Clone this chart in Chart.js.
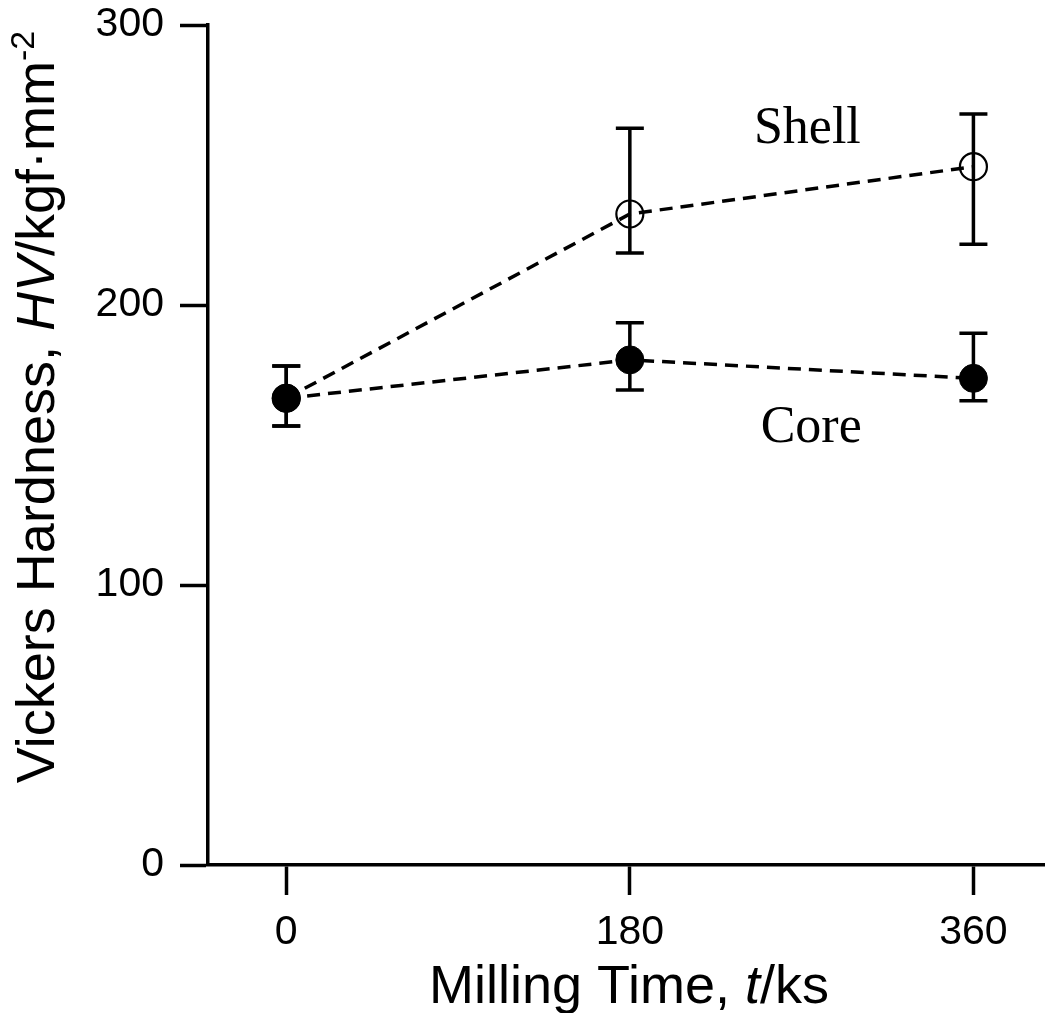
<!DOCTYPE html>
<html>
<head>
<meta charset="utf-8">
<script src="https://cdn.jsdelivr.net/npm/chart.js@4.4.1/dist/chart.umd.min.js"></script>
<style>
  html, body { margin: 0; padding: 0; background: #fff; }
  #wrap { width: 1045px; height: 1013px; }
</style>
</head>
<body>
<div id="wrap"><canvas id="hv" width="1045" height="1013"></canvas></div>
<script>
// milling time (ks)
const times = [0, 180, 360];
const xTicks = [0, 180, 360];
const yTicks = [0, 100, 200, 300];

// Vickers hardness, HV
const coreHV = [166.7, 180.4, 173.8];
const coreHi = [178.2, 193.7, 189.9];
const coreLo = [156.8, 169.6, 165.8];
const shellHV = [166.7, 232.5, 249.4];
const shellHi = [178.2, 263.1, 268.2];
const shellLo = [156.8, 218.6, 221.7];

const sans = 'Arial, "Liberation Sans", sans-serif';
const serif = '"Times New Roman", "Liberation Serif", serif';

function pts(vals) {
    return times.map((t, i) => ({ x: t, y: vals[i] }));
}

// error bars with caps
const errorBars = {
    id: 'errorBars',
    afterDatasetsDraw(chart) {
        const { ctx, scales: { x, y } } = chart;
        ctx.save();
        ctx.strokeStyle = '#000';
        ctx.lineWidth = 3.5;
        ctx.setLineDash([]);
        chart.data.datasets.forEach(ds => {
            ds.data.forEach((p, i) => {
                const px = x.getPixelForValue(p.x);
                const top = y.getPixelForValue(ds.hi[i]);
                const bot = y.getPixelForValue(ds.lo[i]);
                ctx.beginPath();
                ctx.moveTo(px, top); ctx.lineTo(px, bot);
                ctx.moveTo(px - 14, top); ctx.lineTo(px + 14, top);
                ctx.moveTo(px - 14, bot); ctx.lineTo(px + 14, bot);
                ctx.stroke();
            });
        });
        ctx.restore();
    }
};

function richWidth(ctx, parts) {
    let w = 0;
    parts.forEach(p => { ctx.font = p.font; w += ctx.measureText(p.t).width; });
    return w;
}
function drawRich(ctx, parts, x, y) {
    let cx = x;
    parts.forEach(p => {
        ctx.font = p.font;
        ctx.fillText(p.t, cx, y - (p.up || 0));
        cx += ctx.measureText(p.t).width;
    });
}

// axis titles (mixed italic) and series labels
const texts = {
    id: 'texts',
    afterDraw(chart) {
        const { ctx, chartArea: a, scales: { x, y } } = chart;
        ctx.save();
        ctx.fillStyle = '#000';
        ctx.textBaseline = 'alphabetic';
        ctx.textAlign = 'left';

        const xt = [
            { t: 'Milling Time, ', font: '54px ' + sans },
            { t: 't', font: 'italic 54px ' + sans },
            { t: '/ks', font: '54px ' + sans }
        ];
        const xw = richWidth(ctx, xt);
        drawRich(ctx, xt, 629 - xw / 2, a.bottom + 138);

        const yt = [
            { t: 'Vickers Hardness, ', font: '54px ' + sans },
            { t: 'HV', font: 'italic 54px ' + sans },
            { t: '/kgf\u00B7mm', font: '54px ' + sans },
            { t: '-2', font: '34px ' + sans, up: 20 }
        ];
        const yw = richWidth(ctx, yt);
        ctx.save();
        ctx.translate(54, 407);
        ctx.rotate(-Math.PI / 2);
        drawRich(ctx, yt, -yw / 2, 0);
        ctx.restore();

        ctx.font = '52px ' + serif;
        ctx.textAlign = 'center';
        ctx.fillText('Shell', x.getPixelForValue(273), y.getPixelForValue(258));
        ctx.fillText('Core', x.getPixelForValue(275), y.getPixelForValue(151));
        ctx.restore();
    }
};

const common = {
    borderColor: '#000',
    borderWidth: 3.5,
    borderDash: [13, 8],
    fill: false,
    tension: 0,
    pointBorderColor: '#000'
};

new Chart(document.getElementById('hv'), {
    type: 'line',
    data: {
        datasets: [
            Object.assign({}, common, {
                label: 'Shell',
                data: pts(shellHV),
                hi: shellHi, lo: shellLo,
                pointRadius: 13.5,
                pointBorderWidth: 2.2,
                pointBackgroundColor: 'rgba(0,0,0,0)',
                order: 2
            }),
            Object.assign({}, common, {
                label: 'Core',
                data: pts(coreHV),
                hi: coreHi, lo: coreLo,
                pointRadius: 14,
                pointBorderWidth: 1,
                pointBackgroundColor: '#000',
                order: 1
            })
        ]
    },
    options: {
        responsive: false,
        animation: false,
        layout: { autoPadding: false, padding: { top: 25, right: 0, left: 0, bottom: 0 } },
        plugins: { legend: { display: false }, tooltip: { enabled: false } },
        scales: {
            x: {
                type: 'linear',
                min: -41,
                max: 397.5,
                afterBuildTicks: s => { s.ticks = xTicks.map(v => ({ value: v })); },
                afterFit: s => { s.height = 148; s.paddingLeft = 0; s.paddingRight = 0; },
                border: { color: '#000', width: 3.5 },
                grid: { drawOnChartArea: false, tickLength: 30, tickColor: '#000', tickWidth: 3.5 },
                ticks: { color: '#000', padding: 13, font: { family: sans, size: 41 } }
            },
            y: {
                min: 0,
                max: 300,
                afterBuildTicks: s => { s.ticks = yTicks.map(v => ({ value: v })); },
                afterFit: s => { s.width = 208; s.paddingTop = 0; s.paddingBottom = 0; },
                border: { color: '#000', width: 3.5 },
                grid: { drawOnChartArea: false, tickLength: 28, tickColor: '#000', tickWidth: 3.5 },
                ticks: { color: '#000', padding: 16, font: { family: sans, size: 41 } }
            }
        }
    },
    plugins: [errorBars, texts]
});
</script>
</body>
</html>
